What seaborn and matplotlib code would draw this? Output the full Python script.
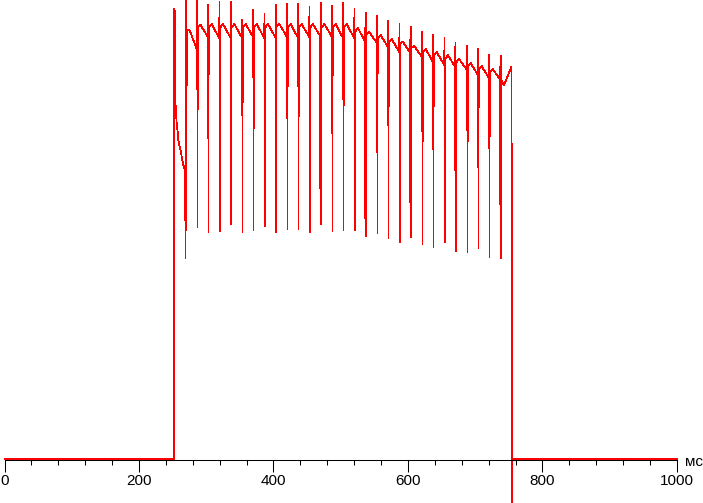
import matplotlib
matplotlib.use("Agg")
import matplotlib.pyplot as plt
from matplotlib.ticker import MultipleLocator
import pandas as pd
import seaborn as sns

# ── Data (time in ms, level in screen units above the baseline) ──────────────
# switch-on transient
onset_ms = [0.0, 252.5, 252.5, 253.5, 254.3, 256.0, 257.5, 258.5, 261.0,
            262.5, 264.4, 265.9, 267.3, 268.8]
onset_level = [0, 0, 450, 447, 355, 336, 327, 319, 311, 306, 299, 294, 291, 289]

# short spikes that repeat every ~16.7 ms
spike_ms = [270.3, 286.7, 303.0, 319.7, 336.8, 353.6, 370.0, 386.6, 403.7,
            420.5, 436.9, 453.5, 470.6, 487.4, 503.8, 520.4, 537.1, 554.3,
            570.7, 587.4, 604.0, 621.3, 637.6, 654.3, 670.6, 688.2, 704.5,
            720.9, 737.8]
spike_top = [460, 458, 454, 457, 457, 439, 449, 445, 454, 455, 455, 452, 456,
             453, 456, 450, 446, 443, 438, 435, 432, 427, 424, 421, 416, 413,
             410, 404, 403]
spike_bottom = [229, 232, 227, 228, 235, 227, 229, 233, 227, 230, 230, 227,
                235, 228, 229, 229, 223, 226, 221, 217, 222, 215, 212, 217,
                208, 207, 211, 202, 201]
spike_dip = [201, 372, None, None, None, 399, None, None, None, 376, None,
             None, 271, 397, None, None, 241, 372, None, None, 257, 328, None,
             None, 289, 339, None, None, 255]

# ripple between spikes: level right after, small hump, level before next
ripple_start = [429, 432, 432, 431, 431, 431, 432, 431, 432, 432, 431, 431,
                431, 431, 431, 427, 424, 420, 417, 416, 411, 406, 404, 399,
                396, 392, 389, 386, 379]
ripple_peak = [429, 434, 435, 435, 435, 435, 435, 435, 435, 435, 435, 435,
               435, 435, 435, 431, 427, 424, 420, 417, 413, 410, 407, 404,
               400, 396, 393, 390, 374]
ripple_end = [409, 422, 421, 421, 421, 422, 421, 421, 422, 421, 422, 422,
              422, 421, 421, 417, 416, 412, 407, 406, 402, 397, 394, 392,
              389, 384, 381, 379, 392]

# switch-off
offset_ms = [754.2, 755.1, 755.1, 755.3, 1000.0]
offset_level = [294, 294, -80, 0, 0]

x_ticks = [0, 200, 400, 600, 800, 1000]

# ── Build the trace ───────────────────────────────────────────────────────────
t = list(onset_ms)
y = list(onset_level)
n = len(spike_ms)
for k in range(n):
    sk = spike_ms[k]
    if spike_dip[k] is not None:
        prev = y[-1]
        t += [sk - 1.2, sk - 0.9]
        y += [spike_dip[k], prev]
    t += [sk, sk + 0.3, sk + 0.6]
    y += [spike_top[k], spike_bottom[k], ripple_start[k]]
    nxt = spike_ms[k + 1] if k + 1 < n else offset_ms[0]
    t += [sk + 0.3 * (nxt - sk), nxt - 0.4]
    y += [ripple_peak[k], ripple_end[k]]
t += offset_ms
y += offset_level

df = pd.DataFrame({"ms": t, "level": y})

# ── Plot ──────────────────────────────────────────────────────────────────────
sns.set_style("white", {"xtick.bottom": True})
plt.rcParams["font.family"] = ["Liberation Sans", "DejaVu Sans"]

fig = plt.figure(figsize=(7.03, 5.03), dpi=100)
ax = fig.add_axes([0, 0, 1, 1])

sns.lineplot(data=df, x="ms", y="level", sort=False, estimator=None,
             color="#ff0000", lw=0.55, antialiased=False, ax=ax)

ax.set_xlim(-6.7, 1038.7)
ax.set_ylim(-44, 459)

for side in ["top", "left", "right"]:
    ax.spines[side].set_visible(False)
ax.spines["bottom"].set_position(("data", -1))
ax.spines["bottom"].set_bounds(0, 1000)
ax.spines["bottom"].set_color("black")
ax.spines["bottom"].set_linewidth(0.75)

ax.set_xticks(x_ticks)
ax.set_xticklabels([str(v) for v in x_ticks])
ax.xaxis.set_minor_locator(MultipleLocator(40))
ax.tick_params(axis="x", which="both", bottom=True)
ax.tick_params(axis="x", which="major", length=8.4, width=0.75,
               direction="out", color="black", labelsize=11, pad=1.5,
               labelcolor="black")
ax.tick_params(axis="x", which="minor", length=3.6, width=0.75,
               direction="out", color="black")
ax.set_yticks([])
ax.set_xlabel("")
ax.set_ylabel("")

ax.text(1012, -7, "мс", ha="left", va="baseline", fontsize=11, color="black")

fig.savefig("out.png", dpi=100)
